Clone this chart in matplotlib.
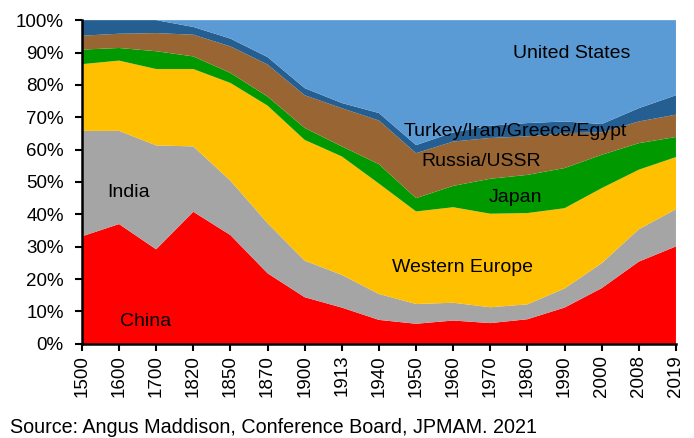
import matplotlib
matplotlib.use("Agg")
import matplotlib.pyplot as plt
import numpy as np

plt.rcParams['font.family'] = ['Liberation Sans', 'DejaVu Sans']

years = ["1500", "1600", "1700", "1820", "1850", "1870", "1900", "1913", "1940",
         "1950", "1960", "1970", "1980", "1990", "2000", "2008", "2019"]

china = [33.2, 37.0, 29.2, 40.8, 33.6, 21.8, 14.4, 11.2, 7.4, 6.2, 7.2, 6.4, 7.6, 11.2, 17.2, 25.4, 30.1]
india = [32.6, 28.8, 32.1, 20.2, 16.8, 15.5, 11.3, 10.1, 8.0, 6.1, 5.5, 4.9, 4.6, 5.9, 7.7, 10.0, 11.5]
western_europe = [20.6, 21.7, 23.6, 23.9, 30.2, 36.3, 37.3, 36.6, 34.1, 28.6, 29.5, 28.9, 28.2, 24.8, 23.2, 18.4, 16.1]
japan = [4.5, 3.9, 5.5, 3.9, 3.1, 2.8, 3.7, 3.1, 6.0, 4.1, 6.6, 10.8, 11.8, 12.4, 10.3, 8.2, 6.2]
russia = [4.3, 4.4, 5.6, 6.7, 8.2, 9.9, 10.1, 11.8, 13.5, 13.9, 13.7, 12.6, 11.9, 10.8, 6.9, 6.7, 6.9]
turkey_group = [4.8, 4.2, 4.0, 2.4, 2.4, 2.3, 2.2, 1.6, 2.3, 2.5, 2.8, 3.8, 4.1, 3.6, 2.6, 4.1, 6.0]
united_states = [0.0, 0.0, 0.0, 2.1, 5.7, 11.4, 21.0, 25.6, 28.7, 38.6, 34.7, 32.6, 31.8, 31.3, 32.1, 27.2, 23.2]

series_names = ["China", "India", "Western Europe", "Japan", "Russia/USSR",
                "Turkey/Iran/Greece/Egypt", "United States"]
colors = ["#FF0000", "#A5A5A5", "#FFC000", "#009A00", "#996633", "#255E91", "#5B9BD5"]

fig = plt.figure(figsize=(6.94, 4.38), dpi=100)
ax = fig.add_axes([0.118, 0.215, 0.856, 0.739])

x = np.arange(len(years))
data = np.array([china, india, western_europe, japan, russia, turkey_group, united_states])
ax.stackplot(x, data, colors=colors, labels=series_names, linewidth=0)

ax.set_xlim(0, len(years) - 1)
ax.set_ylim(0, 100)
ax.set_yticks(np.arange(0, 101, 10))
ax.set_yticklabels([f"{v}%" for v in range(0, 101, 10)], fontsize=13.5)
ax.set_xticks(x)
ax.set_xticklabels(years, rotation=90, fontsize=13.5)
for s in ["top", "right"]:
    ax.spines[s].set_visible(False)
for s in ["left", "bottom"]:
    ax.spines[s].set_linewidth(1.8)
    ax.spines[s].set_color("black")
ax.tick_params(axis="both", direction="out", length=5, width=1.5, colors="black")
ax.tick_params(axis="y", pad=8)
ax.tick_params(axis="x", pad=3)

labels = [("United States", 13.2, 89.7), ("Turkey/Iran/Greece/Egypt", 11.66, 65.6),
          ("Russia/USSR", 10.75, 56.2), ("Japan", 11.69, 45.1),
          ("Western Europe", 10.24, 23.5), ("India", 1.27, 46.7), ("China", 1.72, 6.8)]
for txt, lx, ly in labels:
    ax.text(lx, ly, txt, ha="center", va="center", fontsize=14, color="black")

fig.text(0.015, 0.0114, "Source: Angus Maddison, Conference Board, JPMAM. 2021",
         fontsize=14.2, ha="left", va="baseline")

fig.savefig("out.png", dpi=100)
